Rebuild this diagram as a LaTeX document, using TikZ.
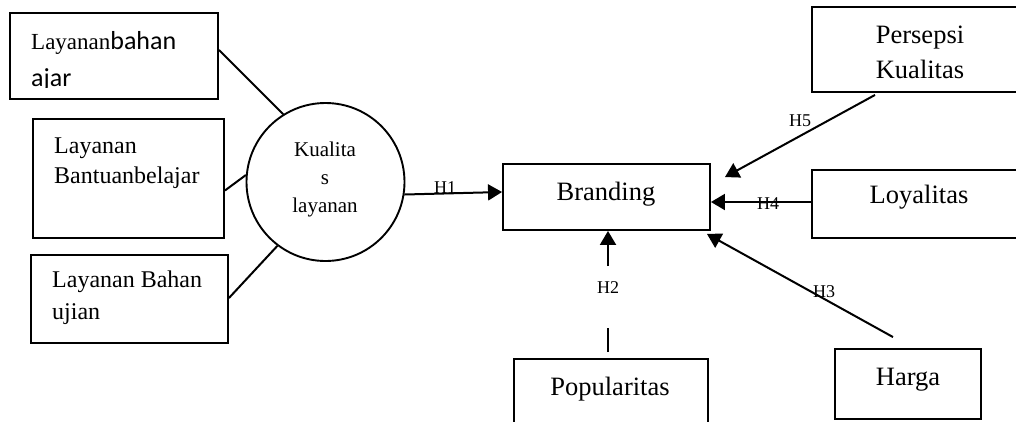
\documentclass[tikz,border=0pt]{standalone}
\usepackage{fontspec}
\setmainfont{Liberation Serif}
\newfontfamily\calibrifont{Carlito}
\usetikzlibrary{arrows.meta}
\begin{document}
\begin{tikzpicture}[x=1pt,y=-1pt,
  box/.style={draw, line width=1.9pt, inner sep=0pt},
  txt/.style={inner sep=0pt, anchor=base},
  txtl/.style={inner sep=0pt, anchor=base west},
  big/.style={font=\fontsize{26.5}{30}\selectfont},
  mid/.style={font=\fontsize{24}{28}\selectfont},
  lnk/.style={line width=2pt},
  arr/.style={line width=2pt, -{Triangle[length=14pt,width=16pt]}},
  hl/.style={inner sep=0pt, anchor=base, font=\fontsize{18}{20}\selectfont}]
\clip (0,0) rectangle (1016,421);
% boxes
\node[box, minimum width=208pt, minimum height=86pt] (b1) at (114,56) {};
\node[box, minimum width=191pt, minimum height=119pt] (b2) at (128.5,178.5) {};
\node[box, minimum width=197pt, minimum height=88pt] (b3) at (129.5,299) {};
\node[box, circle, minimum size=158pt] (circ) at (325.5,182) {};
\node[box, minimum width=207pt, minimum height=66pt] (brand) at (606.5,197) {};
\node[box, minimum width=228pt, minimum height=85pt] (pers) at (926,49.5) {};
\node[box, minimum width=228pt, minimum height=68pt] (lo) at (926,204) {};
\node[box, minimum width=194pt, minimum height=81pt] (pop) at (611,399.5) {};
\node[box, minimum width=146pt, minimum height=70pt] (harga) at (908,384) {};
% texts
\node[txtl, font=\fontsize{23}{28}\selectfont] (t1a) at (31,49) {Layanan{\calibrifont\fontsize{26}{30}\selectfont bahan}};
\begin{scope}
\clip (20,60) rectangle (200,87.5);
\node[txtl, font=\calibrifont\fontsize{26}{30}\selectfont] (t1b) at (31,86) {ajar};
\end{scope}
\node[txtl, mid] (t2a) at (54,153) {Layanan};
\node[txtl, mid] (t2b) at (54,183) {Bantuanbelajar};
\node[txtl, mid] (t3a) at (52,287) {Layanan Bahan};
\node[txtl, mid] (t3b) at (52,319) {ujian};
\node[txt, font=\fontsize{21}{24}\selectfont] (c1) at (325,156) {Kualita};
\node[txt, font=\fontsize{21}{24}\selectfont] (c2) at (325,184) {s};
\node[txt, font=\fontsize{21}{24}\selectfont] (c3) at (325,212) {layanan};
\node[txt, big] (tbr) at (606,200) {Branding};
\node[txt, big] (tp1) at (920,43) {Persepsi};
\node[txt, big] (tp2) at (920,78) {Kualitas};
\node[txt, big] (tlo) at (919,203) {Loyalitas};
\node[txt, big] (tpop) at (610,395) {Popularitas};
\node[txt, big] (tha) at (908,385) {Harga};
% connectors left
\draw[lnk] (b1.east |- 0,50) coordinate (l1s) -- (circ.122);
\draw[lnk] ([yshift=-12pt]b2.east) -- (circ.175);
\draw[lnk] ([yshift=1pt]b3.east) -- (circ.233);
% arrows
\draw[arr] (circ.-9) -- ([yshift=5pt]brand.west);
\node[hl] (h1) at (445,193) {H1};
\draw[arr] ([xshift=-51pt,yshift=-2pt]pers.south) -- ([xshift=14pt,yshift=-14pt]brand.north east);
\node[hl] (h5) at (800,126) {H5};
\draw[arr] ([yshift=2pt]lo.west) -- ([yshift=-5pt]brand.east);
\node[hl] (h4) at (768,209) {H4};
\draw[arr] ([xshift=-15pt,yshift=11pt]harga.north) -- ([xshift=-4pt,yshift=-3pt]brand.south east);
\node[hl] (h3) at (824,297) {H3};
\coordinate (h2a) at (608,328);
\coordinate (h2b) at (608,266);
\draw[lnk] ([xshift=-3pt,yshift=6pt]pop.north) -- (h2a);
\draw[arr] (h2b) -- ([xshift=1.5pt]brand.south);
\node[hl] (h2) at (608,293) {H2};
\end{tikzpicture}
\end{document}
